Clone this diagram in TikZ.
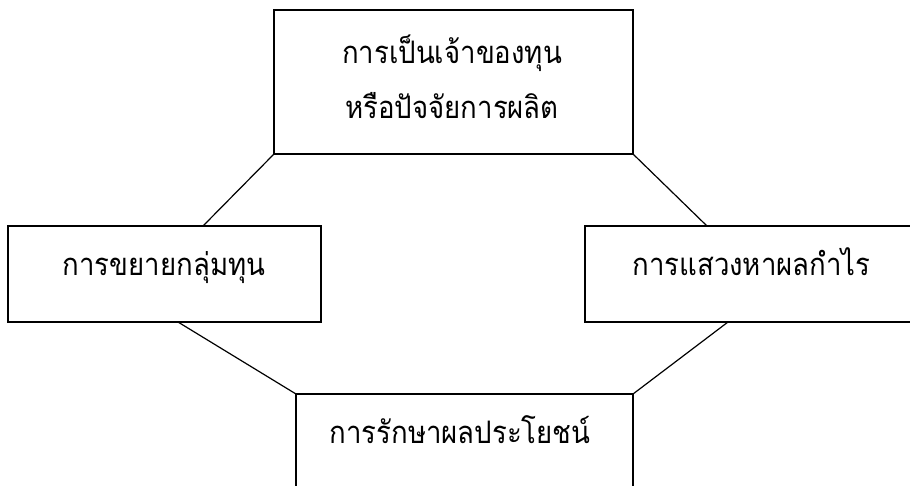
\documentclass[tikz,border=0pt]{standalone}
\usepackage{fontspec}
\newfontfamily\thaifont[Script=Thai,FakeStretch=0.89]{Loma}
\begin{document}
\begin{tikzpicture}[x=1pt,y=-1pt,
  box/.style={draw, line width=1.5pt, outer sep=0pt, inner sep=0pt},
  lbl/.style={font=\thaifont\fontsize{31}{36}\selectfont, anchor=base, inner sep=0pt},
  conn/.style={line width=1.2pt}]
\useasboundingbox (0,0) rectangle (910,485);
\clip (0,0) rectangle (910,485);
\fill[white] (0,0) rectangle (910,485);
% boxes
\node[box, minimum width=359pt, minimum height=144pt] (top) at (453.5,82) {};
\node[box, minimum width=313pt, minimum height=96pt] (left) at (164.5,274) {};
\node[box, minimum width=332pt, minimum height=96pt] (right) at (751,274) {};
\node[box, minimum width=337pt, minimum height=120pt] (bottom) at (464.5,454) {};
% labels
\node[lbl] (t1) at (452,63) {การเป็นเจ้าของทุน};
\node[lbl] (t2) at (452,118) {หรือปัจจัยการผลิต};
\node[lbl] (tl) at (164,275) {การขยายกลุ่มทุน};
\node[lbl] (tr) at (751.5,275) {การแสวงหาผลกำไร};
\node[lbl] (tb) at (460,443) {การรักษาผลประโยชน์};
% connectors
\draw[conn] (top.south west) -- ([xshift=195pt]left.north west);
\draw[conn] (top.south east) -- ([xshift=122pt]right.north west);
\draw[conn] ([xshift=170pt]left.south west) -- (bottom.north west);
\draw[conn] ([xshift=143pt]right.south west) -- (bottom.north east);
\end{tikzpicture}
\end{document}
